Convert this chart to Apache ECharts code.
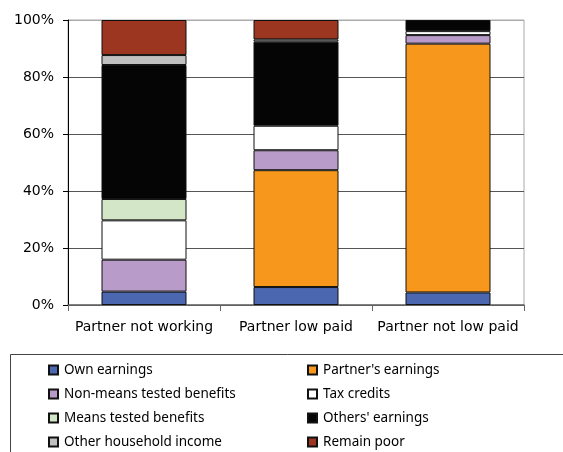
<!DOCTYPE html>
<html><head><meta charset="utf-8">
<script src="https://cdn.jsdelivr.net/npm/echarts@6/dist/echarts.min.js"></script>
<style>html,body{margin:0;padding:0;background:#fff}#c{width:563px;height:452px}</style>
</head><body><div id="c"></div>
<script>
const categories = ['Partner not working', 'Partner low paid', 'Partner not low paid'];
const yTicks = ['0%', '20%', '40%', '60%', '80%', '100%'];
const ownEarnings = [4.7, 6.3, 4.4];
const partnersEarnings = [null, 41.0, 87.3];
const nonMeansTested = [11.2, 7.0, 3.0];
const taxCredits = [13.8, 8.6, 1.4];
const meansTested = [7.5, null, null];
const othersEarnings = [47.0, 29.5, 3.9];
const otherHousehold = [3.5, 0.8, null];
const remainPoor = [12.3, 6.8, null];

const seriesDefs = [
  ['Own earnings', ownEarnings, '#4a67b0'],
  ["Partner's earnings", partnersEarnings, '#f7981d'],
  ['Non-means tested benefits', nonMeansTested, '#b89bc9'],
  ['Tax credits', taxCredits, '#ffffff'],
  ['Means tested benefits', meansTested, '#d3e6c8'],
  ["Others' earnings", othersEarnings, '#050505'],
  ['Other household income', otherHousehold, '#c0c0c0'],
  ['Remain poor', remainPoor, '#9c3621']
];
const font = 'DejaVu Sans';
const chart = echarts.init(document.getElementById('c'));
const legendCommon = {
  orient: 'vertical', icon: 'rect', itemWidth: 9, itemHeight: 9, itemGap: 10,
  textStyle: { fontFamily: 'Noto Sans', fontSize: 13.5, color: '#000', padding: [0, 0, 0, 1] }, selectedMode: false, padding: 0
};
chart.setOption({
  animation: false,
  backgroundColor: '#fff',
  grid: { left: 68, right: 39, top: 20, bottom: 147, show: true, borderColor: '#aaa', borderWidth: 1 },
  xAxis: {
    type: 'category', data: categories,
    axisLine: { lineStyle: { color: '#666', width: 1.5 } },
    axisTick: { show: true, length: 6, lineStyle: { color: '#666' } },
    axisLabel: { fontFamily: font, fontSize: 14, color: '#000', margin: 15, interval: 0 }
  },
  yAxis: {
    type: 'value', min: 0, max: 100, interval: 20,
    axisLine: { show: true, lineStyle: { color: '#000' } },
    axisTick: { show: true, length: 5, lineStyle: { color: '#000' } },
    axisLabel: { fontFamily: font, fontSize: 14, color: '#000', margin: 14,
      formatter: v => yTicks[Math.round(v / 20)] },
    splitLine: { show: true, lineStyle: { color: ['#555', '#555', '#555', '#555', '#555', '#aaa'], width: 1 } }
  },
  legend: [
    Object.assign({ left: 48, top: 363, data: [seriesDefs[0][0], seriesDefs[2][0], seriesDefs[4][0], seriesDefs[6][0]] }, legendCommon),
    Object.assign({ left: 307, top: 363, data: [seriesDefs[1][0], seriesDefs[3][0], seriesDefs[5][0], seriesDefs[7][0]] }, legendCommon)
  ],
  graphic: [{
    type: 'rect', shape: { x: 10.5, y: 354.5, width: 700, height: 300 },
    style: { fill: 'none', stroke: '#444', lineWidth: 1 }, z: -1
  }],
  series: seriesDefs.map(([name, data, color]) => ({
    name, type: 'bar', stack: 'total', data, barWidth: 85,
    itemStyle: { color, borderColor: '#111', borderWidth: 1 }
  }))
});
</script></body></html>
